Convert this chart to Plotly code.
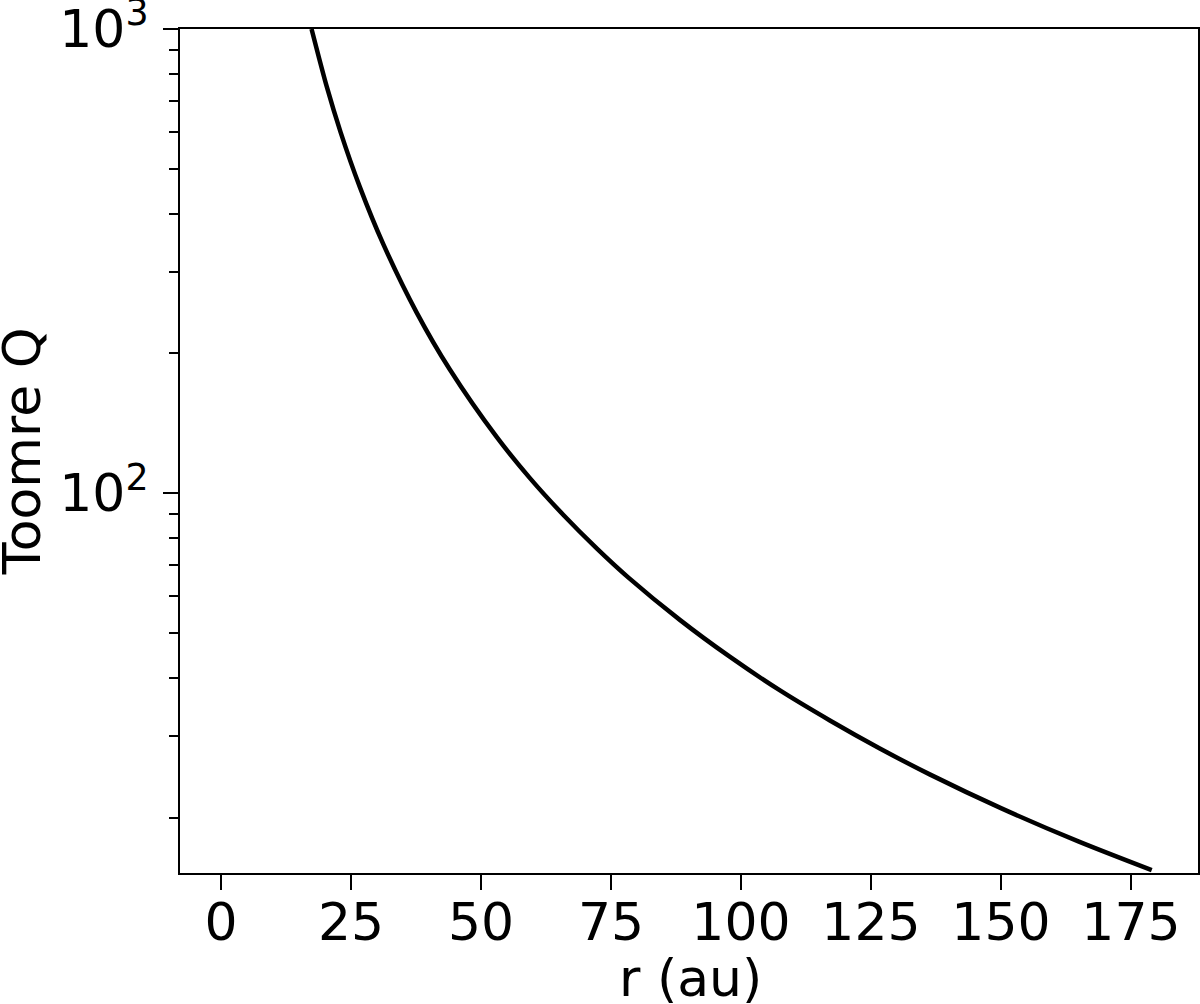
"""Toomre Q profile versus radius (log y axis)."""

import plotly.graph_objects as go

# values (readings evened out by eye)
r_au = [17.4, 20.3, 23.0, 26.7, 31.2, 37.6, 44.0, 53.0, 59.4, 65.8,
        72.3, 78.3, 88.3, 97.9, 107.5, 117.1, 126.7, 136.3, 150.1, 165.0,
        179.0]
toomre_q = [1000, 753, 599, 456.5, 344, 245.3, 184.7, 132.2, 107.8, 89.9,
            76.0, 65.9, 53.3, 44.4, 37.6, 32.4, 28.2, 24.8, 20.95, 17.76,
            15.42]

x_ticks = [0, 25, 50, 75, 100, 125, 150, 175]
y_major = [100, 1000]
y_major_text = ["10<sup>2</sup>", "10<sup>3</sup>"]
y_minor = [20, 30, 40, 50, 60, 70, 80, 90, 200, 300, 400, 500, 600, 700, 800, 900]

FONT = "DejaVu Sans"
font_big = {"family": FONT, "size": 52, "color": "black"}

fig = go.Figure()
fig.add_trace(
    go.Scatter(
        x=r_au,
        y=toomre_q,
        mode="lines",
        line={"color": "black", "width": 4.5, "shape": "spline", "smoothing": 0.8},
        showlegend=False,
    )
)

axis_common = dict(
    showline=True,
    linecolor="black",
    linewidth=2,
    mirror=True,
    showgrid=False,
    zeroline=False,
    ticks="outside",
    ticklen=15,
    tickwidth=2,
    tickcolor="black",
    tickfont=font_big,
    ticklabeloverflow="allow",
)

fig.update_xaxes(
    **axis_common,
    range=[-7.9, 187.9],
    tickmode="array",
    tickvals=x_ticks,
    ticklabelstandoff=-12,
)
fig.update_yaxes(
    **axis_common,
    type="log",
    range=[1.182, 3.0],
    tickmode="array",
    tickvals=y_major,
    ticktext=y_major_text,
    ticklabelstandoff=4,
    minor={"tickmode": "array", "tickvals": y_minor, "ticks": "outside",
           "ticklen": 9, "tickwidth": 2, "tickcolor": "black", "showgrid": False},
)

# axis titles as annotations so they sit where the reference has them
fig.add_annotation(text="r (au)", xref="paper", yref="paper", x=0.501, y=-0.124,
                   xanchor="center", yanchor="middle", showarrow=False, font=font_big)
fig.add_annotation(text="Toomre Q", xref="paper", yref="paper", x=-0.155, y=0.5,
                   xanchor="center", yanchor="middle", textangle=-90,
                   showarrow=False, font=font_big)

fig.update_layout(
    width=1200,
    height=1004,
    margin={"l": 180, "r": 2, "t": 29, "b": 131, "autoexpand": False},
    paper_bgcolor="white",
    plot_bgcolor="white",
)

fig.write_html(
    "out.html",
    config={"displayModeBar": False},
    post_script="document.body.style.margin = '0';",
)
